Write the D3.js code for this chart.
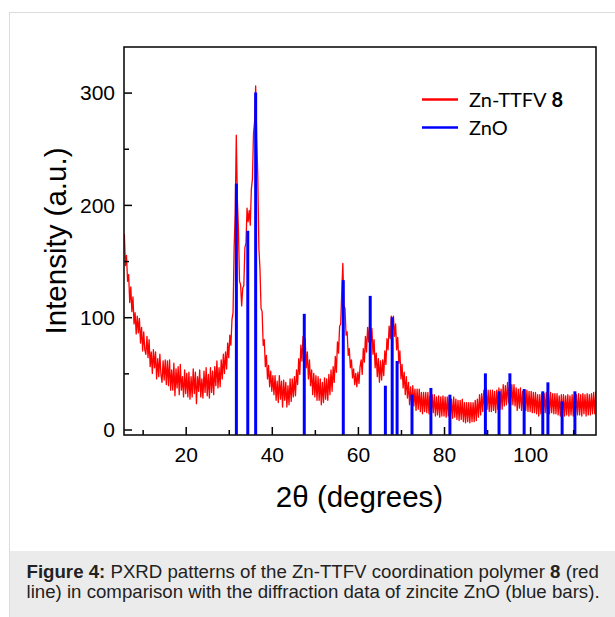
<!DOCTYPE html>
<html><head><meta charset="utf-8">
<script src="https://cdn.jsdelivr.net/npm/d3@7"></script>
<style>body{margin:0;background:#fff}svg{display:block}</style>
</head><body>
<svg id="c" width="615" height="617"></svg>
<script>
// ---- data ----
const pxrdStart = 5.75, pxrdStep = 0.25;
const pxrd = [
 174,146,155,132,138,113,127,105,118,94,104,85,101,86,99,77,91,70,87,71,
 67,83,64,80,56,69,50,71,55,69,45,63,47,67,49,42,61,44,62,40,
 61,39,62,35,53,35,59,30,54,37,56,31,58,35,47,29,53,32,50,29,
 51,27,47,29,54,32,51,23,47,34,53,29,45,28,52,33,55,30,49,28,
 55,33,52,31,56,39,61,37,55,38,62,45,67,50,69,54,77,64,84,75,
 98,104,162,192,262,205,178,132,129,110,126,128,162,166,197,185,195,182,214,223,
 264,274,306,258,225,161,143,108,105,75,80,56,66,45,57,38,52,34,48,31,
 48,26,43,24,48,27,43,20,44,26,42,20,39,22,45,25,45,29,47,30,
 53,40,63,49,75,61,83,65,81,55,69,45,62,39,53,31,50,29,48,26,
 47,26,45,22,42,24,46,27,45,26,49,31,53,34,56,42,65,51,78,68,
 92,94,123,148,110,108,84,87,66,72,55,62,46,54,40,50,38,51,41,56,
 62,49,72,60,83,69,91,78,96,78,90,67,80,55,68,47,63,42,61,44,
 62,48,70,58,81,71,92,81,101,88,101,83,94,71,82,59,70,45,58,37,
 51,31,47,28,42,22,38,21,39,21,36,17,36,18,36,16,33,14,33,16,
 33,15,33,14,30,12,31,15,31,12,29,13,30,11,29,12,30,12,29,11,
 29,12,30,11,27,10,29,11,27,9,26,8,26,9,27,7,24,6,24,7,
 24,6,24,7,24,7,26,8,27,11,31,13,32,16,35,17,37,18,35,16,
 35,16,35,17,34,15,35,18,37,18,36,18,40,21,39,22,42,24,41,22,
 40,22,40,21,37,17,36,19,37,17,34,16,35,17,35,16,34,16,34,15,
 33,15,33,14,31,12,31,14,32,13,32,15,33,14,31,14,33,15,32,14,
 32,14,32,13,30,12,31,14,31,12,30,13,31,12,30,13,31,12,30,12,
 31,13,32,13,31,12,32,14,31,12,32,13,31,13,32,14,33,14,34
];
// ZnO (zincite) reference diffraction lines
const znoPos = [31.77,34.42,36.25,47.54,56.60,62.86,66.38,67.96,69.10,72.56,76.95,81.37,89.61,92.78,95.30,98.61,102.94,104.13,107.43,110.40];
const znoInt = [219,177,300,103,133,119,39,100,61,31,37,31,50,34,50,36,34,42,25,34];
const xTicks = [20,40,60,80,100];
const xMinor = [10,30,50,70,90,110];
const yTicks = [0,100,200,300];
const yMinor = [50,150,250];
const seriesNames = ["Zn-TTFV", "ZnO"];

// ---- layout ----
const svg = d3.select("#c");
const L = 124, R = 596, T = 47, B = 435;
const x = d3.scaleLinear().domain([5.67, 115.3]).range([L, R]);
const y = d3.scaleLinear().domain([-4.9, 340.6]).range([B, T]);
const font = "'Liberation Sans', Arial, sans-serif";

// figure frame & caption panel
svg.append("rect").attr("x",9.5).attr("y",12.5).attr("width",620).attr("height",620)
  .attr("fill","#fff").attr("stroke","#dcdcdc").attr("stroke-width",1);
svg.append("rect").attr("x",10).attr("y",551).attr("width",605).attr("height",66).attr("fill","#ebebeb");

const clip = svg.append("clipPath").attr("id","plotclip");
clip.append("rect").attr("x",L).attr("y",T).attr("width",R-L).attr("height",B-T);

// red pattern
const line = d3.line().x((d,i)=>x(pxrdStart + i*pxrdStep)).y(d=>y(d));
svg.append("path").datum(pxrd).attr("clip-path","url(#plotclip)")
  .attr("d",line).attr("fill","none").attr("stroke","#ff0000").attr("stroke-width",1.3)
  .attr("stroke-linejoin","round");

// blue bars
svg.append("g").attr("clip-path","url(#plotclip)").selectAll("line").data(znoPos).join("line")
  .attr("x1",d=>x(d)).attr("x2",d=>x(d))
  .attr("y1",B).attr("y2",(d,i)=>y(znoInt[i]))
  .attr("stroke","#0000ff").attr("stroke-width",3);

// axes
const gx = svg.append("g").attr("transform",`translate(0,${B})`)
  .call(d3.axisBottom(x).tickValues(xTicks).tickSizeInner(-8).tickSizeOuter(0).tickPadding(12));
const gxm = svg.append("g").attr("transform",`translate(0,${B})`)
  .call(d3.axisBottom(x).tickValues(xMinor).tickSizeInner(-5).tickSizeOuter(0).tickFormat(""));
const gy = svg.append("g").attr("transform",`translate(${L},0)`)
  .call(d3.axisLeft(y).tickValues(yTicks).tickSizeInner(-8).tickSizeOuter(0).tickPadding(9));
const gym = svg.append("g").attr("transform",`translate(${L},0)`)
  .call(d3.axisLeft(y).tickValues(yMinor).tickSizeInner(-5).tickSizeOuter(0).tickFormat(""));
[gx,gxm,gy,gym].forEach(g=>{
  g.select(".domain").remove();
  g.selectAll(".tick line").attr("stroke","#000").attr("stroke-width",1.5);
  g.selectAll("text").attr("font-family",font).attr("font-size",21).attr("fill","#000");
});
gx.selectAll("text").attr("dy",null).attr("y",26.5);
gy.selectAll("text").attr("dy","0.35em");

// frame
svg.append("rect").attr("x",L).attr("y",T).attr("width",R-L).attr("height",B-T)
  .attr("fill","none").attr("stroke","#111").attr("stroke-width",1.6);

// axis titles
const xt = svg.append("text").attr("x",359.5).attr("y",506.5).attr("text-anchor","middle")
  .attr("font-family",font).attr("font-size",29.5).attr("fill","#000");
xt.append("tspan").text("2");
xt.append("tspan").text("θ");
xt.append("tspan").text(" (degrees)");
svg.append("text").attr("transform","translate(66,241) rotate(-90)").attr("text-anchor","middle")
  .attr("font-family",font).attr("font-size",29.5).attr("fill","#000").text("Intensity (a.u.)");

// legend
const legFont = "Lato, 'Open Sans', sans-serif";
const leg = [{name:seriesNames[0], bold:"8", color:"#ff0000", yy:99.5},{name:seriesNames[1], bold:"", color:"#0000ff", yy:127.5}];
leg.forEach(d=>{
  svg.append("line").attr("x1",422).attr("x2",458).attr("y1",d.yy).attr("y2",d.yy)
    .attr("stroke",d.color).attr("stroke-width",2.6);
  const t = svg.append("text").attr("x",469).attr("y",d.yy+7).attr("font-family",legFont)
    .attr("font-size",20).attr("fill","#000");
  t.append("tspan").text(d.name);
  if (d.bold) t.append("tspan").attr("font-weight","bold").text(" " + d.bold);
});

// caption
const cap = svg.append("g").attr("font-family",font).attr("fill","#222");
const l1 = cap.append("text").attr("x",26.5).attr("y",577.7).attr("font-size",16);
l1.append("tspan").attr("font-weight","bold").text("Figure 4:");
l1.append("tspan").text(" PXRD patterns of the Zn-TTFV coordination polymer ");
l1.append("tspan").attr("font-weight","bold").text("8");
l1.append("tspan").text(" (red");
const l2 = cap.append("text").attr("x",26.5).attr("y",597.7).attr("font-size",16)
  .text("line) in comparison with the diffraction data of zincite ZnO (blue bars).");
const w1 = l1.node().getComputedTextLength();
const fs = 16 * 573 / w1;
l1.attr("font-size",fs); l2.attr("font-size",fs);
</script>
</body></html>
